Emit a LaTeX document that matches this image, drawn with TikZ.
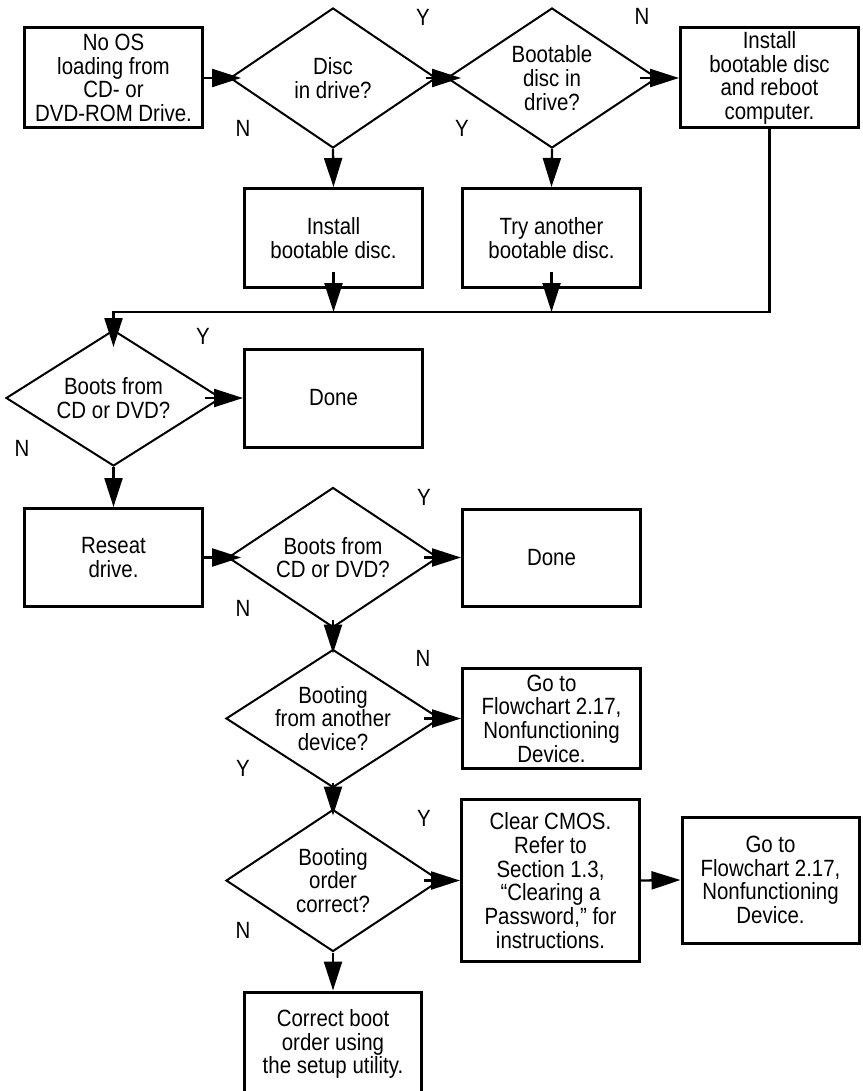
\documentclass[tikz,border=0pt]{standalone}
\usepackage{fontspec}
\setmainfont{Liberation Sans}[FakeStretch=0.87]
\usetikzlibrary{shapes.geometric,arrows.meta}
\newcommand\fsz{\fontsize{23.5}{23.7}\selectfont}
\tikzset{
  box/.style={draw, line width=3pt, minimum width=178pt, minimum height=100pt, align=center, inner sep=0pt, font=\fsz},
  dia/.style={draw, diamond, line width=2pt, minimum width=212pt, minimum height=140pt, inner sep=0pt},
  dtext/.style={align=center, font=\fsz, inner sep=0pt},
  lab/.style={font=\fsz, inner sep=0pt},
  arr/.style={line width=2.3pt, -{Triangle[length=29pt,width=18pt]}},
  conn/.style={line width=2.3pt}
}
\begin{document}
\begin{tikzpicture}[x=1pt,y=-1pt]
\useasboundingbox[fill=white] (0,0) rectangle (862,1091);
\clip (0,0) rectangle (862,1091);
% row 1
\node[box] (a) at (113.5,78) {No OS\\loading from\\CD- or\\DVD-ROM Drive.};
\node[dia, minimum width=206pt] (d1) at (333,78) {};
\node[dtext] (d1t) at (d1) {Disc\\in drive?};
\node[dia, minimum width=210pt] (d2) at (552,78) {};
\node[dtext] (d2t) at (d2) {Bootable\\disc in\\drive?};
\node[box] (b3) at (769.5,78) {Install\\bootable disc\\and reboot\\computer.};
\node[lab] (l1) at (423,17) {Y};
\node[lab] (l2) at (243,128) {N};
\node[lab] (l3) at (642,16) {N};
\node[lab] (l4) at (462,128) {Y};
% row 2
\node[box, minimum height=99pt] (b4) at (333.5,238) {Install\\bootable disc.};
\node[box, minimum height=99pt] (b5) at (551.5,238) {Try another\\bootable disc.};
\coordinate (j0) at (113.5,312);
\coordinate (j1) at (333.5,312);
\coordinate (j2) at (551.5,312);
% row 3
\node[dia, minimum width=215pt, minimum height=136pt] (d3) at (113.5,398) {};
\node[dtext] (d3t) at (d3) {Boots from\\CD or DVD?};
\node[box, minimum height=98pt] (done1) at (333.5,398) {Done};
\node[lab] (l5) at (203,336) {Y};
\node[lab] (l6) at (22,448) {N};
% row 4
\node[box, minimum height=98pt] (reseat) at (113.5,557.5) {Reseat\\drive.};
\node[dia, minimum width=210pt] (d4) at (333,557.5) {};
\node[dtext] (d4t) at (d4) {Boots from\\CD or DVD?};
\node[box, minimum height=97pt] (done2) at (551.5,557.5) {Done};
\node[lab] (l7) at (424,497) {Y};
\node[lab] (l8) at (243,608) {N};
% row 5
\node[dia, minimum width=214pt, minimum height=138pt] (d5) at (333,718.5) {};
\node[dtext] (d5t) at (d5) {Booting\\from another\\device?};
\node[box] (g1) at (551.5,718.5) {Go to\\Flowchart 2.17,\\Nonfunctioning\\Device.};
\node[lab] (l9) at (423,658) {N};
\node[lab] (l10) at (243,768) {Y};
% row 6
\node[dia, minimum width=214pt, minimum height=142pt] (d6) at (333,880.5) {};
\node[dtext] (d6t) at (d6) {Booting\\order\\correct?};
\node[box, minimum height=162pt] (cmos) at (550.5,880.5) {Clear CMOS.\\Refer to\\Section 1.3,\\“Clearing a\\Password,” for\\instructions.};
\node[box, minimum width=177pt, minimum height=126pt] (g2) at (770.5,880) {Go to\\Flowchart 2.17,\\Nonfunctioning\\Device.};
\node[lab] (l11) at (424,818) {Y};
\node[lab] (l12) at (243,930) {N};
% row 7
\node[box, minimum width=177pt, minimum height=104pt] (corr) at (333,1044) {Correct boot\\order using\\the setup utility.};
% connectors
\draw[arr, shorten >=-12pt] (a.east) -- (d1.west);
\draw[arr, shorten <=11pt, shorten >=-15pt] (d1.east) -- (d2.west);
\draw[arr, shorten <=18pt] (d2.east) -- (b3.west);
\draw[arr] (d1.south) -- (b4.north);
\draw[arr] (d2.south) -- (b5.north);
\draw[arr, shorten <=17pt] (b4.south) -- (j1);
\draw[arr, shorten <=17pt] (b5.south) -- (j2);
\draw[arr, shorten >=-18pt] (b3.south) |- (j0) -- (d3.north);
\draw[arr, shorten <=17pt] (d3.east) -- (done1.west);
\draw[arr] (d3.south) -- (reseat.north);
\draw[arr, shorten >=-14pt] (reseat.east) -- (d4.west);
\draw[arr, shorten <=15pt] (d4.east) -- (done2.west);
\draw[arr, shorten <=9pt, shorten >=-5pt] (d4.south) -- (d5.north);
\draw[arr, shorten <=17pt] (d5.east) -- (g1.west);
\draw[arr, shorten <=6pt, shorten >=-7pt] (d5.south) -- (d6.north);
\draw[arr, shorten <=17pt] (d6.east) -- (cmos.west);
\draw[arr] (cmos.east) -- (g2.west);
\draw[arr] (d6.south) -- (corr.north);
\end{tikzpicture}
\end{document}
